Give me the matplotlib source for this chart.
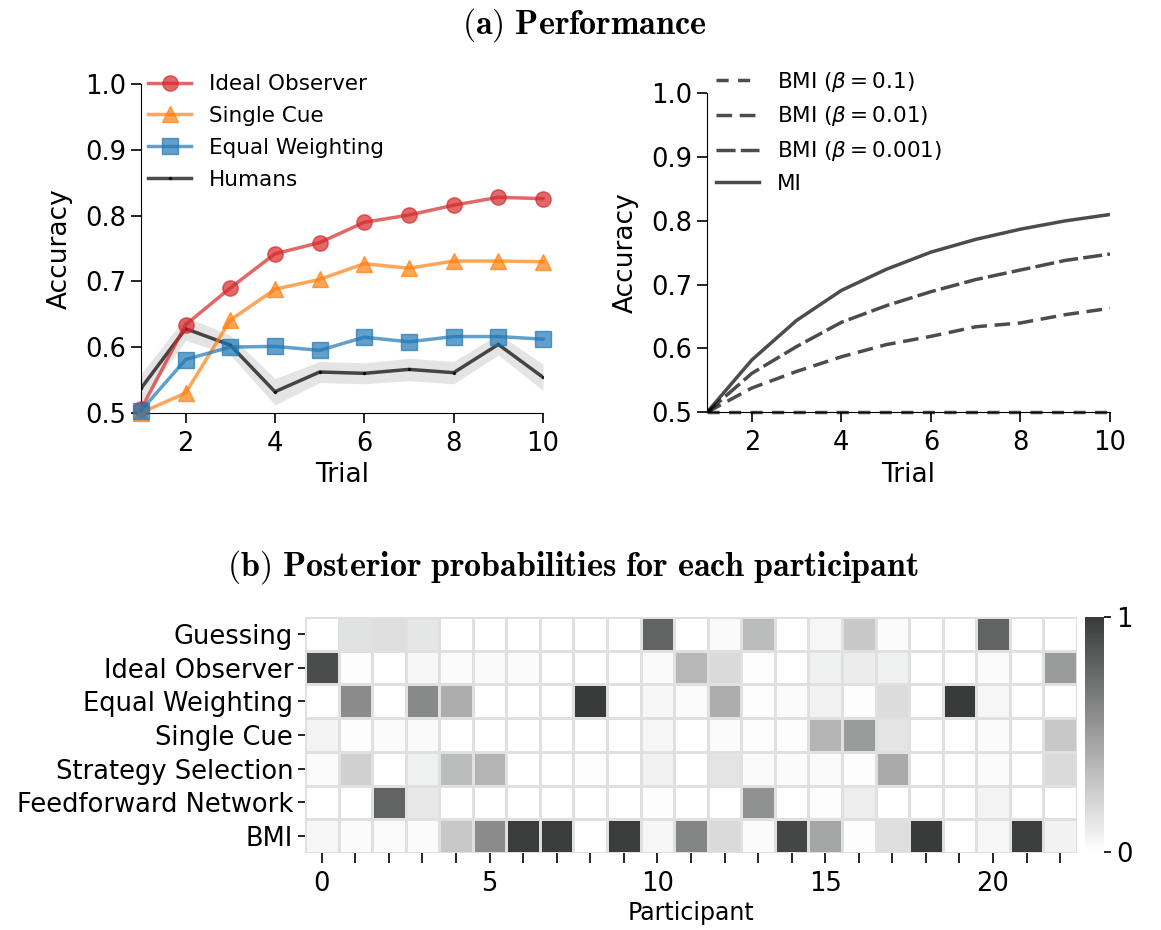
import numpy as np
import matplotlib
matplotlib.use("Agg")
import matplotlib.pyplot as plt
from matplotlib.colors import LinearSegmentedColormap

plt.rcParams['font.family'] = 'DejaVu Sans'
plt.rcParams['mathtext.fontset'] = 'dejavusans'

# ---- data ----
trials = np.arange(1, 11)

ideal_observer = [0.505, 0.634, 0.690, 0.742, 0.759, 0.790, 0.801, 0.816, 0.828, 0.826]
single_cue = [0.500, 0.530, 0.641, 0.688, 0.703, 0.727, 0.720, 0.731, 0.731, 0.730]
equal_weighting = [0.503, 0.581, 0.600, 0.601, 0.595, 0.615, 0.608, 0.616, 0.616, 0.612]
humans = [0.537, 0.628, 0.603, 0.532, 0.562, 0.560, 0.566, 0.561, 0.604, 0.554]
humans_sem = [0.022, 0.018, 0.015, 0.020, 0.016, 0.016, 0.017, 0.017, 0.016, 0.020]

bmi_01 = [0.500, 0.500, 0.500, 0.500, 0.500, 0.500, 0.500, 0.500, 0.500, 0.500]
bmi_001 = [0.500, 0.538, 0.564, 0.587, 0.606, 0.619, 0.634, 0.640, 0.653, 0.663]
bmi_0001 = [0.500, 0.561, 0.603, 0.641, 0.667, 0.689, 0.708, 0.723, 0.738, 0.748]
mi = [0.500, 0.582, 0.644, 0.691, 0.724, 0.751, 0.771, 0.787, 0.800, 0.810]

strategies = ["Guessing", "Ideal Observer", "Equal Weighting", "Single Cue",
              "Strategy Selection", "Feedforward Network", "BMI"]
participants = np.arange(23)
posterior = np.array([
    [0.00, 0.15, 0.17, 0.13, 0.00, 0.00, 0.00, 0.00, 0.00, 0.00, 0.79, 0.00,
     0.03, 0.34, 0.00, 0.05, 0.28, 0.02, 0.00, 0.00, 0.79, 0.00, 0.00],
    [0.91, 0.01, 0.00, 0.04, 0.02, 0.03, 0.02, 0.00, 0.00, 0.00, 0.03, 0.37,
     0.19, 0.01, 0.00, 0.08, 0.10, 0.08, 0.00, 0.00, 0.02, 0.00, 0.51],
    [0.00, 0.59, 0.00, 0.60, 0.42, 0.00, 0.00, 0.00, 1.00, 0.00, 0.04, 0.02,
     0.42, 0.01, 0.02, 0.07, 0.01, 0.18, 0.00, 1.00, 0.05, 0.00, 0.00],
    [0.06, 0.01, 0.02, 0.03, 0.00, 0.00, 0.00, 0.00, 0.00, 0.00, 0.05, 0.00,
     0.02, 0.01, 0.01, 0.38, 0.51, 0.14, 0.00, 0.00, 0.02, 0.00, 0.28],
    [0.02, 0.24, 0.00, 0.08, 0.34, 0.38, 0.00, 0.00, 0.01, 0.00, 0.07, 0.00,
     0.14, 0.03, 0.02, 0.03, 0.01, 0.43, 0.00, 0.00, 0.02, 0.00, 0.19],
    [0.00, 0.00, 0.79, 0.12, 0.00, 0.00, 0.00, 0.00, 0.00, 0.00, 0.01, 0.00,
     0.00, 0.56, 0.00, 0.01, 0.09, 0.00, 0.00, 0.00, 0.06, 0.00, 0.00],
    [0.05, 0.02, 0.02, 0.02, 0.28, 0.59, 0.99, 0.99, 0.00, 0.99, 0.05, 0.62,
     0.19, 0.02, 0.94, 0.46, 0.01, 0.17, 1.00, 0.00, 0.05, 0.98, 0.07],
])

# ---- figure ----
fig = plt.figure(figsize=(11.61, 9.30), dpi=100)
fs = 18.5
lfs = 15.5

def style_axis(ax):
    ax.spines['top'].set_visible(False)
    ax.spines['right'].set_visible(False)
    ax.tick_params(labelsize=fs, length=7, width=1.2, direction='out')
    ax.tick_params(axis='x', pad=6)
    ax.set_xlim(1, 10)
    ax.set_ylim(0.5, 1.0)
    ax.set_xticks([2, 4, 6, 8, 10])
    ax.set_yticks([0.5, 0.6, 0.7, 0.8, 0.9, 1.0])
    ax.set_xlabel("Trial", fontsize=fs + 0.5, labelpad=4)
    ax.set_ylabel("Accuracy", fontsize=fs + 0.5, labelpad=9)

ax1 = fig.add_axes([0.1214, 0.5562, 0.3463, 0.3531])
ax1.fill_between(trials, np.array(humans) - np.array(humans_sem),
                 np.array(humans) + np.array(humans_sem),
                 color='#d9d9d9', alpha=0.7, lw=0, zorder=1)
ax1.plot(trials, ideal_observer, color='#d62728', alpha=0.7, lw=2.5,
         marker='o', ms=11, label="Ideal Observer", clip_on=False, zorder=3)
ax1.plot(trials, single_cue, color='#ff7f0e', alpha=0.7, lw=2.5,
         marker='^', ms=11, label="Single Cue", clip_on=False, zorder=3)
ax1.plot(trials, equal_weighting, color='#1f77b4', alpha=0.7, lw=2.5,
         marker='s', ms=11, label="Equal Weighting", clip_on=False, zorder=3)
ax1.plot(trials, humans, color='black', alpha=0.7, lw=2.5,
         marker='.', ms=3, label="Humans", zorder=2)
style_axis(ax1)
ax1.legend(loc='upper left', bbox_to_anchor=(-0.03, 1.09), frameon=False,
           fontsize=lfs, handlelength=2.0, labelspacing=0.55, handletextpad=0.8)

ax2 = fig.add_axes([0.6090, 0.5567, 0.3471, 0.3430])
ax2.plot(trials, bmi_01, color='black', alpha=0.7, lw=2.5,
         dashes=(3.5, 2.7), label=r"BMI ($\beta = 0.1$)", clip_on=False)
ax2.plot(trials, bmi_001, color='black', alpha=0.7, lw=2.5,
         dashes=(4.5, 2.2), label=r"BMI ($\beta = 0.01$)")
ax2.plot(trials, bmi_0001, color='black', alpha=0.7, lw=2.5,
         dashes=(5.5, 1.5), label=r"BMI ($\beta = 0.001$)")
ax2.plot(trials, mi, color='black', alpha=0.7, lw=2.5, label="MI")
style_axis(ax2)
ax2.legend(loc='upper left', bbox_to_anchor=(-0.025, 1.135), frameon=False,
           fontsize=lfs, handlelength=2.0, labelspacing=0.5, handletextpad=0.8)

fig.text(0.503, 0.973, r"$\mathbf{(a)\ Performance}$", ha='center', va='center',
         fontsize=24.5, math_fontfamily='cm')
fig.text(0.493, 0.390, r"$\mathbf{(b)\ Posterior\ probabilities\ for\ each\ participant}$",
         ha='center', va='center', fontsize=24.5, math_fontfamily='cm')

# ---- heatmap ----
cmap = LinearSegmentedColormap.from_list("grey", ["#ffffff", "#393b3a"])
ax3 = fig.add_axes([0.2627, 0.0828, 0.6649, 0.2538])
mesh = ax3.pcolormesh(np.arange(len(participants) + 1), np.arange(len(strategies) + 1),
                      posterior, cmap=cmap, vmin=0, vmax=1,
                      edgecolors='#e0e0e0', linewidth=1)
ax3.set_xlim(0, len(participants))
ax3.set_ylim(len(strategies), 0)
for s in ax3.spines.values():
    s.set_visible(False)
ax3.set_yticks(np.arange(len(strategies)) + 0.5)
ax3.set_yticklabels(strategies, fontsize=fs)
ax3.set_xticks(participants + 0.5)
ax3.set_xticklabels([str(p) if p % 5 == 0 else "" for p in participants], fontsize=fs)
ax3.tick_params(length=5, width=1.2)
ax3.tick_params(axis='x', length=7, pad=6)
ax3.set_xlabel("Participant", fontsize=17, labelpad=3)

cax = fig.add_axes([0.9345, 0.0839, 0.0165, 0.2527])
cb = fig.colorbar(mesh, cax=cax, ticks=[0, 1])
cb.outline.set_visible(False)
cb.ax.tick_params(labelsize=fs, length=5, width=1.2)

fig.savefig("out.png", dpi=100)
